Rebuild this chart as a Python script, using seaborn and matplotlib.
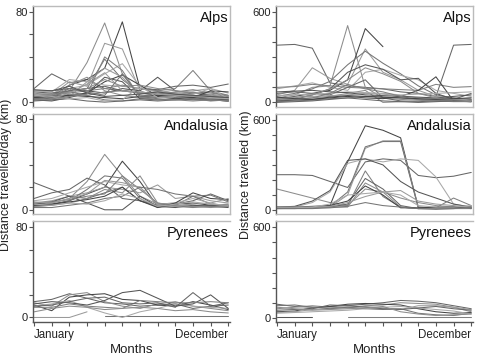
#!/usr/bin/env python3

import seaborn as sns
import pandas as pd
import numpy as np
import matplotlib.pyplot as plt

nan = np.nan

months = list(range(1, 13))
regions = ['Alps', 'Andalusia', 'Pyrenees']

# distance travelled per day (km), one list per tracked individual
alps_day = [
    [12, 25, 17, 20, 12, 10, 8, 9, 7, 5, 4, 3],
    [5, 4, 10, 35, 70, 25, 5, 8, 6, 5, 3, 2],
    [6, 5, 15, 20, 30, 71, 12, 10, 8, 6, 5, 4],
    [4, 6, 18, 14, 52, 47, 10, 5, 7, 9, 6, 3],
    [3, 5, 10, 12, 38, 20, 8, 6, 4, 5, 3, 2],
    [7, 8, 12, 15, 25, 34, 14, 10, 8, 6, 4, 3],
    [10, 10, 12, 10, 8, 12, 10, 22, 10, 8, 6, 4],
    [5, 6, 8, 10, 12, 15, 12, 10, 12, 28, 10, 6],
    [9, 8, 10, 12, 14, 10, 12, 11, 14, 15, 13, 16],
    [2, 3, 15, 22, 10, 6, 4, 5, 6, 4, 3, 1],
    [4, 3, 6, 8, 18, 24, 15, 5, 3, 4, 2, 2],
    [3, 2, 5, 18, 30, 22, 6, 4, 5, 3, 2, 1],
    [6, 7, 9, 6, 2, 1, 3, 4, 6, 8, 9, 5],
    [10, 9, 20, 18, 15, 14, 12, 9, 8, 10, 12, 8],
    [2, 1, 4, 8, 22, 18, 3, 2, 3, 2, 2, 1],
    [5, 4, 7, 6, 9, 10, 8, 7, 9, 11, 8, 6],
    [1, 2, 3, 1, 0, 1, 2, 1, 2, 3, 2, 1],
    [8, 6, 9, 12, 20, 14, 15, 12, 10, 8, 7, 5],
    [4, 5, 6, 5, 4, 3, 5, 6, 5, 4, 10, 9],
    [7, 3, 8, 16, 26, 10, 9, 7, 6, 5, 6, 4],
    [3, 4, 12, 9, 6, 25, 5, 3, 2, 3, 1, 2],
    [6, 5, 3, 4, 1, 2, 14, 4, 5, 7, 12, 3],
    [11, 10, 14, 8, 5, 6, 7, 9, 7, 6, 5, 4],
    [2, 3, 5, 7, 40, 28, 4, 2, 2, 1, 2, 1],
]

andalusia_day = [
    [24, 18, 12, 10, 15, 20, 8, 3, 4, 3, 4, 5],
    [5, 6, 10, 25, 49, 30, 12, 5, 6, 4, 3, 4],
    [4, 5, 8, 14, 20, 43, 25, 3, 5, 6, 4, 3],
    [6, 8, 12, 15, 20, 18, 15, 22, 10, 12, 8, 6],
    [3, 4, 8, 18, 30, 28, 10, 2, 4, 12, 5, 4],
    [8, 10, 15, 20, 25, 22, 20, 5, 6, 10, 6, 3],
    [5, 7, 12, 6, 0, 0, 12, 3, 2, 4, 3, 2],
    [6, 7, 9, 12, 14, 30, 18, 6, 3, 2, 3, 4],
    [10, 15, 18, 28, 22, 10, 8, 4, 5, 8, 14, 8],
    [3, 4, 6, 10, 18, 15, 30, 6, 4, 3, 2, 3],
    [4, 5, 7, 9, 12, 20, 8, 2, 6, 15, 10, 9],
    [7, 6, 10, 14, 26, 24, 20, 4, 3, 5, 6, 10],
    [2, 2, 4, 6, 10, 12, 20, 18, 14, 12, 13, 7],
    [5, 4, 6, 5, 8, 14, 10, 3, 5, 7, 5, 4],
]

pyrenees_day = [
    [14, 16, 21, 17, 13, 12, 10, 11, 12, 8, 10, 13],
    [13, 10, 20, 22, 14, 10, 8, 12, 14, 10, 8, 6],
    [11, 6, 18, 20, 21, 16, 15, 11, 10, 14, 11, 7],
    [0, 0, 0, 5, nan, nan, nan, nan, nan, nan, nan, nan],
    [nan, nan, nan, nan, 1, 1, 1, 1, 1, 1, 1, 1],
    [10, 12, 15, 9, 4, 0, 5, 8, 12, 10, 9, 8],
    [12, 14, 13, 11, 15, 22, 24, 17, 10, 12, 20, 8],
    [9, 9, 12, 10, 9, 8, 15, 14, 13, 13, 14, 13],
    [10, 11, 14, 17, 18, 13, 12, 13, 9, 22, 10, 11],
    [5, 8, 10, 9, 7, 8, 9, 8, 6, 7, 5, 4],
]

# total distance travelled per month (km)
alps_total = [
    [380, 385, 360, 130, 110, 100, 90, 70, 60, 40, 380, 385],
    [30, 50, 100, 110, 510, 100, 30, 20, 15, 10, 5, 5],
    [20, 40, 60, 80, 150, 490, 370, nan, nan, nan, nan, nan],
    [50, 80, 230, 160, 120, 355, 200, 150, 80, 40, 30, 20],
    [40, 60, 90, 140, 250, 340, 260, 190, 110, 50, 30, 20],
    [90, 110, 130, 100, 80, 200, 220, 180, 150, 80, 60, 40],
    [10, 20, 50, 90, 200, 250, 220, 150, 160, 60, 20, 10],
    [100, 105, 120, 110, 100, 95, 90, 85, 80, 120, 100, 105],
    [60, 70, 60, 50, 100, 150, 30, 10, 5, 10, 20, 60],
    [20, 25, 30, 40, 60, 80, 0, 5, 10, 20, 15, 10],
    [10, 15, 20, 30, 40, 30, 25, 40, 80, 170, 10, 5],
    [30, 35, 40, 45, 50, 60, 55, 45, 30, 25, 20, 30],
    [5, 10, 15, 25, 30, 40, 35, 30, 20, 15, 10, 5],
    [45, 50, 55, 60, 70, 65, 60, 50, 55, 60, 65, 70],
    [70, 75, 80, 70, 65, 50, 45, 40, 35, 30, 40, 50],
    [15, 20, 30, 60, 120, 90, 70, 40, 20, 10, 8, 5],
    [0, 5, 10, 20, 30, 20, 10, 5, 0, 5, 10, 15],
    [25, 30, 50, 90, 150, 230, 190, 140, 60, 30, 20, 10],
    [35, 25, 20, 35, 45, 40, 35, 30, 25, 20, 25, 30],
]

andalusia_total = [
    [235, 235, 230, 190, 150, 320, 340, 330, 230, 215, 225, 250],
    [140, 110, 80, 50, 30, 140, 120, 80, 50, 30, 20, 10],
    [15, 15, 20, 30, 320, 560, 530, 480, 20, 15, 20, 15],
    [15, 15, 15, 20, 100, 410, 460, 460, 20, 10, 15, 15],
    [15, 15, 20, 25, 120, 420, 455, 455, 15, 10, 10, 10],
    [20, 20, 50, 120, 310, 340, 320, 340, 330, 220, 40, 20],
    [20, 25, 60, 130, 330, 340, 300, 190, 120, 80, 40, 20],
    [15, 15, 15, 25, 30, 260, 90, 20, 10, 15, 80, 30],
    [10, 10, 15, 20, 40, 210, 140, 30, 10, 10, 20, 10],
    [10, 12, 15, 20, 20, 180, 120, 20, 10, 10, 10, 15],
    [20, 20, 25, 30, 60, 160, 100, 15, 15, 20, 20, 20],
    [15, 15, 20, 25, 50, 90, 120, 130, 60, 40, 30, 20],
    [10, 10, 10, 15, 25, 50, 30, 20, 10, 5, 10, 20],
    [20, 20, 20, 40, 100, 110, 120, 100, 30, 20, 20, 30],
]

pyrenees_total = [
    [90, 75, 70, 75, 80, 90, 100, 115, 110, 100, 80, 60],
    [60, 70, 80, 70, 65, 80, 85, 100, 95, 90, 70, 40],
    [40, 45, 65, 75, 90, 95, 90, 85, 60, 40, 30, 35],
    [35, 40, 55, 60, 70, 75, 65, 55, 80, 80, 70, 55],
    [80, 85, 70, 60, 70, 60, 55, 60, 30, 20, 15, 30],
    [30, 35, 40, 45, 50, 60, 70, 75, 65, 55, 45, 25],
    [5, 5, 5, nan, nan, nan, nan, nan, nan, nan, nan, nan],
    [nan, nan, nan, nan, 5, 5, 5, 5, 5, 5, 5, 5],
    [50, 55, 60, 85, 80, 70, 60, 55, 65, 75, 60, 50],
    [70, 60, 50, 55, 60, 65, 75, 40, 25, 15, 20, 25],
]

greys = ['#666666', '#8c8c8c', '#444444', '#9a9a9a', '#757575', '#a8a8a8', '#555555', '#808080']


def to_long(tracks):
    rows = []
    for i, vals in enumerate(tracks):
        for m, v in zip(months, vals):
            if not np.isnan(v):
                rows.append({'track': i, 'month': m, 'dist': v})
    return pd.DataFrame(rows)


sns.set_style('white')
plt.rcParams['font.family'] = ['Liberation Sans', 'DejaVu Sans']

fig, axes = plt.subplots(3, 2, figsize=(4.79, 3.56), dpi=100)
plt.subplots_adjust(left=33 / 479, right=473 / 479, top=1 - 6 / 356, bottom=1 - 322 / 356,
                    wspace=0.233, hspace=0.07)

panels = [
    (alps_day, alps_total),
    (andalusia_day, andalusia_total),
    (pyrenees_day, pyrenees_total),
]

for r, (day, total) in enumerate(panels):
    for c, tracks in enumerate([day, total]):
        ax = axes[r, c]
        df = to_long(tracks)
        pal = [greys[i % len(greys)] for i in range(len(tracks))]
        sns.lineplot(data=df, x='month', y='dist', hue='track', palette=pal,
                     estimator=None, legend=False, linewidth=0.75, ax=ax)
        ax.set_xlim(0.94, 12.1)
        if c == 0:
            ax.set_ylim(-4, 85)
            ax.set_yticks([0, 20, 40, 60, 80])
            ax.set_yticklabels(['0', '', '', '', '80'])
        else:
            ax.set_ylim(-28, 640)
            ax.set_yticks([0, 100, 200, 300, 400, 500, 600])
            ax.set_yticklabels(['0', '', '', '', '', '', '600'])
        ax.set_ylabel('')
        ax.set_xlabel('')
        ax.text(0.992, 0.95, regions[r], transform=ax.transAxes, ha='right', va='top',
                fontsize=10.5, color='#111111')
        for s in ax.spines.values():
            s.set_color('#bbbbbb')
            s.set_linewidth(1.0)
        ax.spines['left'].set_color('#555555')
        ax.tick_params(axis='y', left=True, length=3, width=0.8, color='#555555',
                       labelsize=8, labelcolor='#222222', pad=1)
        if r == 2:
            ax.spines['bottom'].set_color('#555555')
            ax.spines['right'].set_visible(False)
            ax.set_xticks(months)
            labs = ['January'] + [''] * 10 + ['December']
            ax.set_xticklabels(labs)
            tl = ax.get_xticklabels()
            tl[0].set_ha('left')
            tl[-1].set_ha('right')
            ax.tick_params(axis='x', bottom=True, length=3, width=0.8, color='#555555',
                           labelsize=8.3, labelcolor='#222222', pad=2)
            ax.set_xlabel('Months', fontsize=9.5, color='#222222', labelpad=2)
        else:
            ax.set_xticks([])

fig.text(0.013, 0.51, 'Distance travelled/day (km)', rotation=90, ha='center', va='center',
         fontsize=9, color='#222222')
fig.text(0.514, 0.51, 'Distance travelled (km)', rotation=90, ha='center', va='center',
         fontsize=9, color='#222222')

plt.savefig('out.png', dpi=100)
